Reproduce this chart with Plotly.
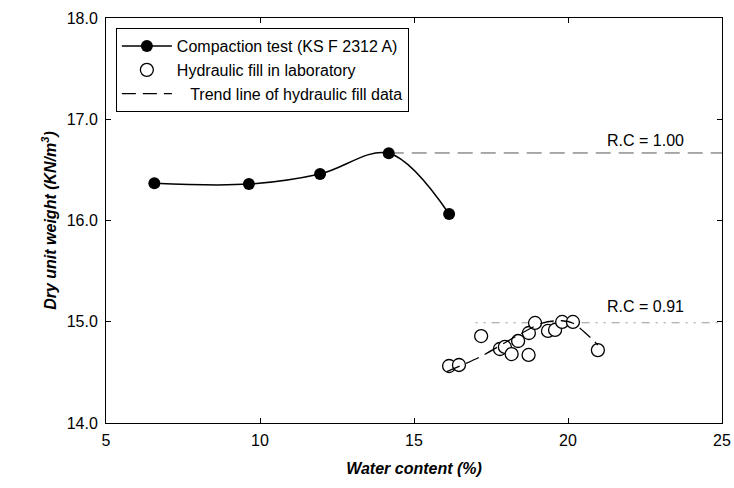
import plotly.graph_objects as go

# Compaction test (KS F 2312 A)
comp_x = [6.57, 9.64, 11.95, 14.18, 16.14]
comp_y = [16.367, 16.36, 16.46, 16.664, 16.064]

# Hydraulic fill in laboratory
fill_x = [16.14, 16.46, 17.18, 17.79, 17.95, 18.17, 18.38, 18.73, 18.72, 18.93, 19.35, 19.58, 19.81, 20.16, 20.97]
fill_y = [14.563, 14.573, 14.859, 14.731, 14.751, 14.681, 14.81, 14.889, 14.672, 14.988, 14.909, 14.919, 14.998, 14.998, 14.72]

# Trend line of hydraulic fill data
trend_x = [16.06, 17.14, 18.33, 19.19, 19.8, 20.17, 20.81, 20.97]
trend_y = [14.507, 14.652, 14.859, 14.99, 15.01, 14.985, 14.82, 14.77]

# Relative compaction reference lines
rc100_x = [14.18, 25.0]
rc100_y = [16.667, 16.667]
rc091_x = [17.0, 25.0]
rc091_y = [14.99, 14.99]
rc_labels = ["R.C = 1.00", "R.C = 0.91"]
rc_label_x = [22.5, 22.5]
rc_label_y = [16.795, 15.155]

x_ticks = [5, 10, 15, 20, 25]
y_ticks = [14.0, 15.0, 16.0, 17.0, 18.0]

FONT = "Liberation Sans, Arial, sans-serif"

fig = go.Figure()

fig.add_trace(go.Scatter(
    x=rc100_x, y=rc100_y, mode="lines", showlegend=False,
    line=dict(color="#555555", width=1, dash="15px,8px"), hoverinfo="skip"))
fig.add_trace(go.Scatter(
    x=rc091_x, y=rc091_y, mode="lines", showlegend=False,
    line=dict(color="#999999", width=1, dash="2px,6px,2px,6px,8px,6px"), hoverinfo="skip"))

fig.add_trace(go.Scatter(
    x=comp_x, y=comp_y, mode="lines+markers",
    name="Compaction test (KS F 2312 A)",
    line=dict(color="black", width=1.5, shape="spline", smoothing=1.0),
    marker=dict(color="black", size=12, symbol="circle")))

fig.add_trace(go.Scatter(
    x=fill_x, y=fill_y, mode="markers",
    name="Hydraulic fill in laboratory",
    marker=dict(color="white", size=13, symbol="circle",
                line=dict(color="black", width=1.3))))

fig.add_trace(go.Scatter(
    x=trend_x, y=trend_y, mode="lines",
    name="&nbsp;&nbsp;&nbsp;Trend line of hydraulic fill data",
    line=dict(color="black", width=1.3, dash="14px,7px", shape="spline", smoothing=0.8)))

for t, lx, ly in zip(rc_labels, rc_label_x, rc_label_y):
    fig.add_annotation(x=lx, y=ly, text=t, showarrow=False,
                       font=dict(family=FONT, size=16, color="black"))

axis_common = dict(
    showgrid=False, zeroline=False, showline=True, linecolor="black", linewidth=1,
    mirror="ticks", ticks="inside", ticklen=5, tickcolor="black", automargin=False,
    tickfont=dict(family=FONT, size=16, color="black"))

fig.update_xaxes(range=[5, 25], tickvals=x_ticks, ticktext=[str(v) for v in x_ticks],
                 ticklabelstandoff=3,
                 title=dict(text="<b><i>Water content (%)</i></b>",
                            font=dict(family=FONT, size=16, color="black"), standoff=14),
                 **axis_common)
fig.update_yaxes(range=[14, 18], tickvals=y_ticks, ticktext=[f"{v:.1f}" for v in y_ticks],
                 ticklabelstandoff=4,
                 title=dict(text="<b><i>Dry unit weight (KN/m<sup>3</sup>)</i></b>",
                            font=dict(family=FONT, size=16, color="black"), standoff=6),
                 **axis_common)

fig.update_layout(
    width=734, height=488,
    margin=dict(l=106, r=12, t=18, b=65),
    plot_bgcolor="white", paper_bgcolor="white",
    font=dict(family=FONT, color="black"),
    legend=dict(x=0.016, y=0.975, xanchor="left", yanchor="top",
                bgcolor="white", bordercolor="black", borderwidth=1,
                font=dict(family=FONT, size=16, color="black"),
                itemwidth=50, tracegroupgap=0),
)

# remove the browser's default body margin so the 734x488 figure fills the window
fig.write_html("out.html",
               config={"displayModeBar": False},
               post_script="document.body.style.margin='0';document.body.style.overflow='hidden';")
